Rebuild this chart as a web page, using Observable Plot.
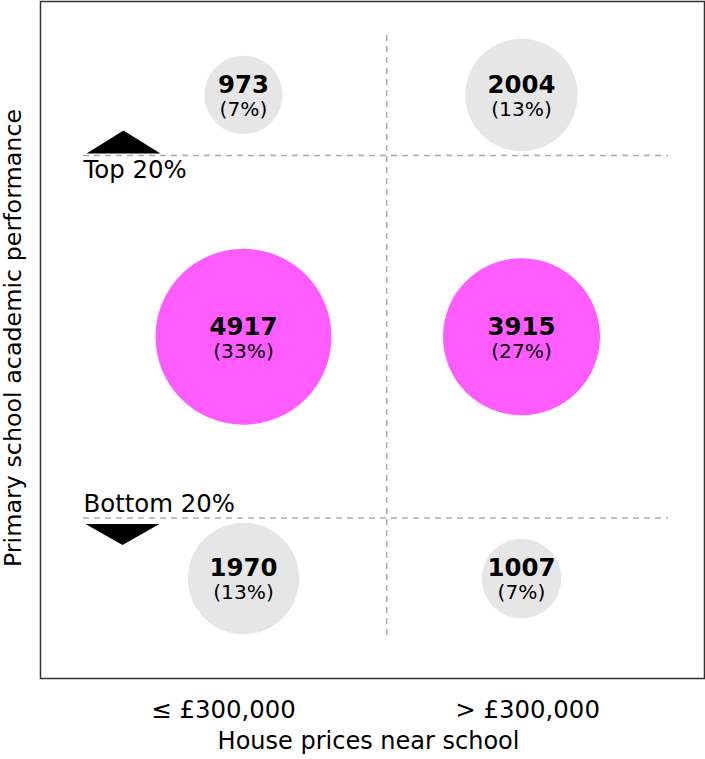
<!DOCTYPE html>
<html>
<head>
<meta charset="utf-8">
<script src="https://cdn.jsdelivr.net/npm/d3@7"></script>
<script src="https://cdn.jsdelivr.net/npm/@observablehq/plot@0.6"></script>
<style>
  html, body { margin: 0; padding: 0; background: #fff; }
  #chart { width: 705px; height: 759px; }
</style>
</head>
<body>
<div id="chart"></div>
<script>
// ---- data ----
const priceBands = ["≤ £300,000", "> £300,000"];          // x categories (column index 0, 1)
const perfRows = ["Top 20%", "Middle 60%", "Bottom 20%"];  // y categories
const rowIndex = [2, 1, 0];                                // vertical position of each row
const counts = [
  [973, 2004],   // top 20%
  [4917, 3915],  // middle
  [1970, 1007]   // bottom 20%
];
const shares = [
  [7, 13],
  [33, 27],
  [13, 7]
];
const thresholdLabels = ["Top 20%", "Bottom 20%"];
const thresholdValues = [1.75, 0.25];   // boundaries between rows (y units)
const thresholdDirs = ["up", "down"];
const priceThreshold = [0.515];         // boundary between price columns (x units)
const priceTickPos = [-0.072, 1.022];   // tick label positions (x units)
const xTitle = "House prices near school";
const yTitle = "Primary school academic performance";

// ---- build tables ----
const cells = [];
perfRows.forEach((p, i) => priceBands.forEach((b, j) => cells.push({
  perf: p, price: b, col: j, row: rowIndex[i], count: counts[i][j], share: shares[i][j]
})));
const thresholds = thresholdLabels.map((l, i) => ({label: l, y: thresholdValues[i], dir: thresholdDirs[i]}));

const upTri = {draw(ctx) { ctx.moveTo(-37, 0); ctx.lineTo(0, -23); ctx.lineTo(37, 0); ctx.closePath(); }};
const downTri = {draw(ctx) { ctx.moveTo(-37, 0); ctx.lineTo(0, 21); ctx.lineTo(37, 0); ctx.closePath(); }};

const font = "DejaVu Sans";
const fs = 24.4;
const chart = Plot.plot({
  width: 705,
  height: 759,
  marginLeft: 40,
  marginRight: 1,
  marginTop: 1,
  marginBottom: 81,
  style: {fontFamily: font, background: "white"},
  x: {domain: [-0.7302, 1.6583], axis: null},
  y: {domain: [-0.4137, 2.3868], axis: null},
  r: {type: "sqrt", domain: [0, 4917], range: [0, 88]},
  marks: [
    // dashed guides
    Plot.ruleY(thresholdValues, {stroke: "#aaa", strokeWidth: 1.5, strokeDasharray: "6,5", insetLeft: 43, insetRight: 36}),
    Plot.ruleX(priceThreshold, {stroke: "#aaa", strokeWidth: 1.5, strokeDasharray: "6,5", insetTop: 34, insetBottom: 38}),
    // arrows
    Plot.dot(thresholds.filter(d => d.dir === "up"), {y: "y", frameAnchor: "left", dx: 83, dy: -2, symbol: upTri, fill: "black", stroke: "none"}),
    Plot.dot(thresholds.filter(d => d.dir === "down"), {y: "y", frameAnchor: "left", dx: 82, dy: 6, symbol: downTri, fill: "black", stroke: "none"}),
    // threshold labels
    Plot.text(thresholds.filter(d => d.dir === "up"), {y: "y", text: "label", frameAnchor: "left", dx: 43, dy: 23, textAnchor: "start", lineAnchor: "bottom", fontSize: fs, fill: "black"}),
    Plot.text(thresholds.filter(d => d.dir === "down"), {y: "y", text: "label", frameAnchor: "left", dx: 43, dy: -6, textAnchor: "start", lineAnchor: "bottom", fontSize: fs, fill: "black"}),
    // bubbles
    Plot.dot(cells, {x: "col", y: "row", r: "count", fill: d => d.row === 1 ? "#ff5cff" : "#e6e6e6", stroke: "none"}),
    Plot.text(cells, {x: "col", y: "row", text: d => String(d.count), fontWeight: "bold", fontSize: fs, lineAnchor: "bottom", dy: -2, fill: "black"}),
    Plot.text(cells, {x: "col", y: "row", text: d => `(${d.share}%)`, fontSize: 20.2, lineAnchor: "bottom", dy: 21, fill: "black"}),
    // frame
    Plot.frame({stroke: "#333", strokeWidth: 1.5}),
    // x tick labels
    Plot.axisX(priceTickPos, {tickSize: 0, tickPadding: 22, fontSize: fs, tickFormat: d => priceBands[priceTickPos.indexOf(d)], label: null, fill: "black"}),
    // axis titles
    Plot.text([xTitle], {frameAnchor: "bottom", dy: 70, dx: -4, lineAnchor: "bottom", fontSize: 24, fill: "black"}),
    Plot.text([yTitle], {frameAnchor: "left", textAnchor: "middle", rotate: -90, dx: -20, dy: -2, lineAnchor: "bottom", fontSize: 23.8, fill: "black"})
  ]
});
document.getElementById("chart").appendChild(chart);
</script>
</body>
</html>
